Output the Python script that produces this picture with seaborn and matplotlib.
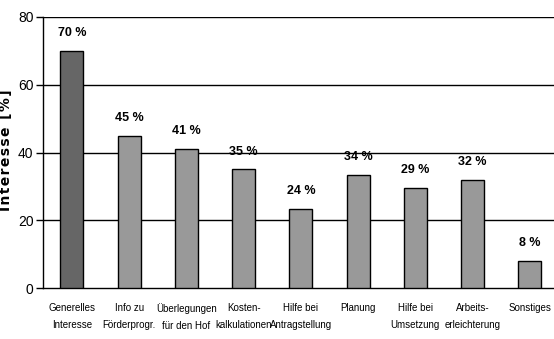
import matplotlib
matplotlib.use("Agg")
import matplotlib.pyplot as plt
import seaborn as sns
import pandas as pd

categories = ["Generelles\nInteresse", "Info zu\nFörderprogr.", "Überlegungen\nfür den Hof",
              "Kosten-\nkalkulationen", "Hilfe bei\nAntragstellung", "Planung",
              "Hilfe bei\nUmsetzung", "Arbeits-\nerleichterung", "Sonstiges"]
values = [70, 45, 41, 35, 23.3, 33.5, 29.5, 32, 8]
value_labels = ["70 %", "45 %", "41 %", "35 %", "24 %", "34 %", "29 %", "32 %", "8 %"]
bar_colors = ["#666666"] + ["#999999"] * 8
yticks = [0, 20, 40, 60, 80]
y_label = "Interesse [%]"

sns.set_theme(style="white")
plt.rcParams['font.family'] = ['Liberation Sans', 'DejaVu Sans']
for k in ["text.color", "axes.labelcolor", "xtick.color", "ytick.color"]:
    plt.rcParams[k] = "black"

df = pd.DataFrame({"cat": categories, "val": values})

fig = plt.figure(figsize=(5.54, 3.39), dpi=100)
ax = fig.add_axes([0.078, 0.150, 0.93, 0.800])
sns.barplot(data=df, x="cat", y="val", hue="cat", palette=bar_colors, legend=False,
            width=0.4, edgecolor="black", linewidth=1.0, ax=ax, zorder=3)

ax.set_ylim(0, 80)
ax.set_xlim(-0.5, 8.5)
ax.set_yticks(yticks)
ax.set_yticklabels([str(t) for t in yticks], fontsize=10)
for t in yticks[1:]:
    ax.axhline(t, color="black", linewidth=1.0, zorder=1)

ax.set_xticks([i + 0.5 for i in range(8)])
ax.set_xticklabels([])
ax.set_xticks(range(9), minor=True)
ax.set_xticklabels(categories, minor=True, fontsize=7.0, linespacing=1.8)
ax.tick_params(axis="x", which="minor", length=0, pad=11)
ax.tick_params(axis="x", which="major", length=5, direction="out", color="black", width=1)
ax.tick_params(axis="y", length=5, direction="out", color="black", width=1, pad=2, left=True)

for s in ["top", "right"]:
    ax.spines[s].set_visible(False)
for s in ["left", "bottom"]:
    ax.spines[s].set_color("black")
    ax.spines[s].set_linewidth(1.0)

for i, (v, lab) in enumerate(zip(values, value_labels)):
    ax.text(i, v + 3.5, lab, ha="center", va="bottom", fontsize=9, fontweight="bold")

ax.set_ylabel("\u200a".join(y_label), fontsize=10, fontweight="bold", family="DejaVu Sans")
ax.yaxis.set_label_coords(-0.058, 0.51)
ax.set_xlabel("")

fig.savefig("out.png", dpi=100)
